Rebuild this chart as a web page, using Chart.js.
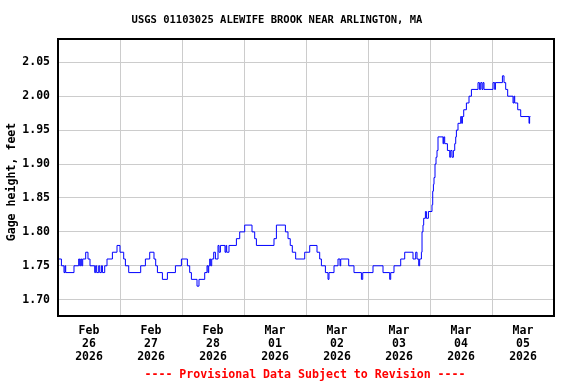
<!DOCTYPE html>
<html>
<head>
<meta charset="utf-8">
<script src="https://cdn.jsdelivr.net/npm/chart.js@4.4.1/dist/chart.umd.min.js"></script>
<style>
  html, body { margin: 0; padding: 0; background: #fff; }
  #wrap { width: 576px; height: 384px; }
</style>
</head>
<body>
<div id="wrap"><canvas id="mainChart" width="576" height="384"></canvas></div>
<script>
// hours since Feb 26 2026 00:00, step change points
const hours = [0, 1.32, 2.32, 2.71, 2.98, 6.19, 8.01, 8.40, 8.79, 9.18, 9.56, 10.72, 11.61, 12.39,
  14.21, 14.59, 14.98, 15.76, 16.15, 16.8, 17.2, 18.08, 18.97, 21.06, 22.84, 24.0, 25.43, 26.09,
  27.37, 32.01, 33.83, 35.5, 37.16, 37.82, 38.48, 40.41, 42.35, 45.45, 47.77, 50.09, 50.98, 51.64,
  53.81, 54.58, 56.79, 57.68, 58.07, 58.34, 58.72, 59.11, 59.5, 60.27, 60.93, 61.94, 62.33, 62.87,
  64.65, 65.03, 65.3, 66.19, 69.06, 70.34, 72.27, 75.1, 76.14, 76.8, 83.61, 84.54, 88.03, 89.03,
  89.9, 90.7, 92.0, 95.5, 97.44, 100.26, 101.3, 101.96, 103.51, 104.52, 104.9, 106.84, 108.39,
  109.16, 109.44, 112.53, 114.58, 117.45, 117.96, 121.94, 125.81, 128.4, 128.79, 130.07, 132.66,
  134.21, 137.42, 138.47, 138.97, 139.63, 140.0, 140.67, 140.91, 141.29, 141.56, 142.22, 142.61,
  143.38, 144.77, 145.05, 145.32, 145.55, 145.94, 146.33, 146.71, 147.1, 149.04, 149.31, 149.69,
  150.74, 151.63, 152.02, 152.52, 153.06, 153.57, 153.95, 154.22, 154.84, 155.88, 156.27, 156.54,
  157.05, 158.09, 159.1, 160.03, 162.58, 163.12, 163.63, 164.13, 164.52, 164.9, 168.39, 169.05,
  169.32, 172.03, 172.65, 173.3, 174.07, 176.13, 176.52, 176.79, 177.95, 179.11, 182.33, 182.56,
  182.87]

const gageHeight = [1.76, 1.75, 1.74, 1.75, 1.74, 1.75, 1.76, 1.75, 1.76, 1.75, 1.76, 1.77, 1.76, 1.75,
  1.74, 1.75, 1.74, 1.75, 1.74, 1.75, 1.74, 1.75, 1.76, 1.77, 1.78, 1.77, 1.76, 1.75,
  1.74, 1.75, 1.76, 1.77, 1.76, 1.75, 1.74, 1.73, 1.74, 1.75, 1.76, 1.75, 1.74, 1.73,
  1.72, 1.73, 1.74, 1.75, 1.74, 1.75, 1.76, 1.75, 1.76, 1.77, 1.76, 1.78, 1.77, 1.78,
  1.77, 1.78, 1.77, 1.78, 1.79, 1.80, 1.81, 1.80, 1.79, 1.78, 1.79, 1.81, 1.80, 1.79,
  1.78, 1.77, 1.76, 1.77, 1.78, 1.77, 1.76, 1.75, 1.74, 1.73, 1.74, 1.75, 1.76,
  1.75, 1.76, 1.75, 1.74, 1.73, 1.74, 1.75, 1.74, 1.73, 1.74, 1.75, 1.76,
  1.77, 1.76, 1.77, 1.76, 1.75, 1.76, 1.77, 1.80, 1.81, 1.82, 1.83, 1.82,
  1.83, 1.84, 1.86, 1.87, 1.88, 1.90, 1.91, 1.92, 1.94, 1.93, 1.94, 1.93,
  1.92, 1.91, 1.92, 1.91, 1.92, 1.93, 1.94, 1.95, 1.96, 1.97, 1.96, 1.97,
  1.98, 1.99, 2.00, 2.01, 2.02, 2.01, 2.02, 2.01, 2.02, 2.01, 2.02, 2.01,
  2.02, 2.03, 2.02, 2.01, 2.00, 1.99, 2.00, 1.99, 1.98, 1.97, 1.96, 1.97,
  1.97]

const dayLabels = [
  ["Feb", "26", "2026"], ["Feb", "27", "2026"], ["Feb", "28", "2026"], ["Mar", "01", "2026"],
  ["Mar", "02", "2026"], ["Mar", "03", "2026"], ["Mar", "04", "2026"], ["Mar", "05", "2026"],
]
const yTicks = [1.70, 1.75, 1.80, 1.85, 1.90, 1.95, 2.00, 2.05]

const chartTitle = "USGS 01103025 ALEWIFE BROOK NEAR ARLINGTON, MA"
const yTitle = "Gage height, feet"
const footer = "---- Provisional Data Subject to Revision ----"

const mono = "'DejaVu Sans Mono', monospace"
const gridGray = "#cccccc"

const chart = document.getElementById("mainChart")

new Chart(chart, {
  type: "line",
  data: {
    datasets: [
      {
        label: "Gage height",
        data: hours.map((h, i) => ({ x: h, y: gageHeight[i] })),
        borderColor: "#0000ff",
        borderWidth: 1,
        pointRadius: 0,
        stepped: true,
        fill: false,
      },
    ],
  },
  options: {
    responsive: false,
    animation: false,
    devicePixelRatio: 1,
    layout: { padding: { top: 39, right: 22, left: 0, bottom: 0 } },
    plugins: {
      legend: { display: false },
      tooltip: { enabled: false },
    },
    scales: {
      x: {
        type: "linear",
        min: 0,
        max: 192,
        afterBuildTicks: (scale) => {
          const t = []
          for (let v = 0; v <= 192; v += 12) t.push({ value: v })
          scale.ticks = t
        },
        afterFit: (scale) => { scale.height = 68 },
        border: { display: false },
        grid: {
          drawTicks: false,
          color: (ctx) => (ctx.tick && ctx.tick.value % 24 === 0 ? gridGray : "rgba(0,0,0,0)"),
        },
        ticks: {
          autoSkip: false,
          maxRotation: 0,
          padding: 9,
          color: "#000",
          font: { family: mono, size: 11.5, weight: "bold", lineHeight: 13 / 11.5 },
          callback: (v) => (v % 24 === 12 ? dayLabels[(v - 12) / 24] : ""),
        },
      },
      y: {
        min: 1.676,
        max: 2.0843,
        afterBuildTicks: (scale) => {
          scale.ticks = yTicks.map((v) => ({ value: v }))
        },
        afterFit: (scale) => { scale.width = 58 },
        border: { display: false },
        grid: { drawTicks: false, color: gridGray },
        ticks: {
          padding: 8,
          color: "#000",
          font: { family: mono, size: 11.5, weight: "bold" },
          callback: (v) => Number(v).toFixed(2),
        },
      },
    },
  },
  plugins: [
    {
      id: "frameAndText",
      afterDraw: function (chart) {
        const ctx = chart.ctx
        const a = chart.chartArea
        ctx.save()
        ctx.strokeStyle = "#000"
        ctx.lineWidth = 2
        ctx.strokeRect(a.left, a.top, a.right - a.left, a.bottom - a.top)

        ctx.textAlign = "center"
        ctx.textBaseline = "middle"
        ctx.fillStyle = "#000"
        ctx.font = "bold 10.5px " + mono
        ctx.fillText(chartTitle, 277, 20)

        ctx.font = "bold 11.6px " + mono
        ctx.fillStyle = "#ff0000"
        ctx.fillText(footer, 305, 375)

        ctx.fillStyle = "#000"
        ctx.translate(12, 182)
        ctx.rotate(-Math.PI / 2)
        ctx.fillText(yTitle, 0, 0)
        ctx.restore()
      },
    },
  ],
})
</script>
</body>
</html>
